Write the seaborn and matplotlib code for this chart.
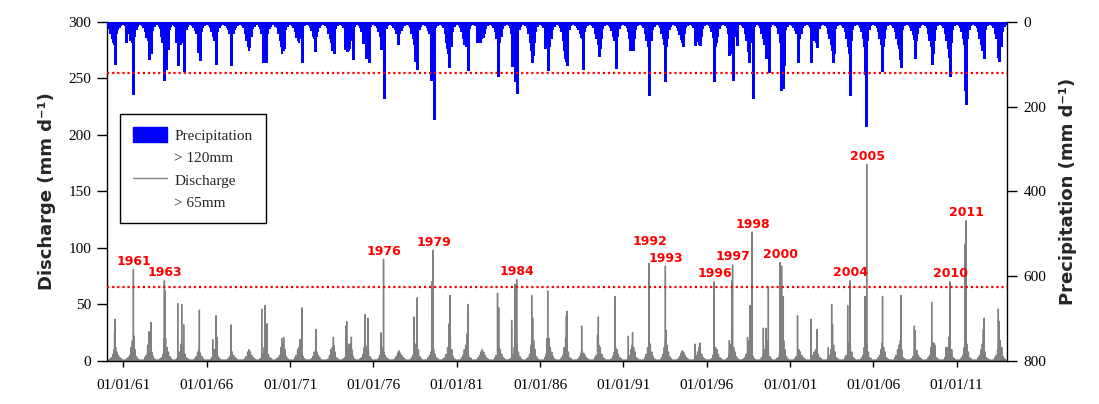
import numpy as np
import pandas as pd
import matplotlib
matplotlib.use("Agg")
import matplotlib.pyplot as plt
import matplotlib.dates as mdates
from matplotlib.patches import Patch
from matplotlib.lines import Line2D
import seaborn as sns

# ---------------- data ----------------
YEARS = list(range(1960, 2014))

# monthly maximum daily precipitation (mm), Jan..Dec, per year
precip_monthly = [
    [12, 18, 28, 40, 50, 55, 45, 30, 20, 14, 10, 8],   # 1960
    [8, 10, 15, 30, 45, 40, 50, 55, 35, 20, 12, 8],
    [8, 10, 14, 25, 38, 45, 50, 60, 40, 22, 12, 8],
    [8, 12, 18, 35, 50, 60, 66, 55, 40, 20, 12, 8],
    [10, 12, 20, 35, 45, 55, 50, 60, 35, 20, 12, 8],
    [8, 10, 14, 22, 30, 35, 45, 35, 25, 15, 10, 8],
    [8, 10, 15, 25, 35, 45, 40, 35, 25, 15, 10, 8],
    [8, 10, 14, 20, 30, 38, 45, 30, 20, 14, 10, 8],
    [8, 10, 15, 28, 45, 60, 70, 55, 35, 18, 12, 8],
    [8, 12, 18, 30, 50, 60, 45, 40, 30, 18, 12, 8],
    [8, 12, 16, 30, 45, 60, 75, 70, 45, 20, 12, 8],   # 1970
    [8, 10, 14, 25, 38, 45, 50, 40, 45, 18, 10, 8],
    [8, 10, 14, 22, 35, 40, 45, 35, 25, 15, 10, 8],
    [8, 10, 14, 28, 40, 50, 70, 60, 40, 18, 10, 8],
    [8, 10, 14, 30, 45, 60, 70, 65, 45, 30, 12, 8],
    [8, 10, 14, 25, 40, 50, 55, 45, 40, 25, 12, 8],
    [8, 10, 14, 25, 35, 45, 50, 40, 30, 18, 10, 8],
    [8, 10, 14, 20, 28, 35, 38, 30, 22, 14, 10, 8],
    [8, 10, 14, 28, 40, 55, 75, 85, 50, 20, 12, 8],
    [8, 10, 14, 22, 30, 40, 38, 35, 25, 15, 10, 8],
    [8, 10, 14, 30, 50, 75, 95, 105, 60, 25, 12, 8],  # 1980
    [8, 10, 14, 25, 40, 55, 60, 50, 35, 18, 10, 8],
    [8, 10, 14, 22, 30, 35, 40, 38, 30, 18, 10, 8],
    [8, 10, 14, 25, 40, 55, 60, 50, 35, 18, 10, 8],
    [8, 10, 14, 30, 45, 60, 70, 55, 40, 20, 12, 8],
    [8, 10, 16, 30, 50, 70, 85, 80, 50, 25, 12, 8],
    [8, 10, 14, 30, 50, 80, 100, 60, 40, 20, 12, 8],
    [8, 10, 14, 25, 45, 70, 95, 90, 45, 20, 10, 8],
    [8, 10, 14, 20, 30, 38, 40, 35, 25, 15, 10, 8],
    [8, 10, 14, 28, 40, 55, 65, 60, 40, 18, 10, 8],
    [8, 10, 14, 22, 35, 45, 55, 50, 35, 18, 10, 8],   # 1990
    [8, 10, 14, 25, 40, 55, 60, 55, 40, 20, 10, 8],
    [8, 10, 14, 28, 45, 60, 75, 70, 45, 20, 12, 8],
    [8, 10, 14, 28, 40, 55, 65, 60, 40, 20, 12, 8],
    [8, 10, 14, 22, 32, 42, 50, 45, 30, 16, 10, 8],
    [8, 10, 14, 25, 38, 48, 55, 50, 35, 18, 10, 8],
    [8, 10, 14, 25, 38, 50, 60, 50, 35, 18, 10, 8],
    [8, 10, 14, 30, 50, 75, 70, 50, 35, 20, 12, 8],
    [8, 10, 14, 30, 45, 65, 80, 75, 50, 22, 12, 8],
    [8, 10, 14, 28, 40, 55, 65, 80, 55, 25, 12, 8],
    [8, 10, 14, 30, 50, 75, 95, 85, 45, 20, 12, 8],   # 2000
    [8, 10, 14, 22, 30, 40, 45, 40, 30, 15, 10, 8],
    [8, 10, 14, 22, 35, 45, 50, 45, 35, 18, 10, 8],
    [8, 10, 14, 28, 40, 55, 70, 65, 40, 18, 10, 8],
    [8, 10, 14, 25, 40, 60, 75, 70, 45, 20, 10, 8],
    [8, 10, 14, 25, 40, 60, 75, 70, 45, 20, 10, 8],
    [8, 10, 14, 25, 40, 55, 75, 60, 40, 20, 10, 8],
    [8, 10, 14, 25, 40, 55, 65, 90, 50, 20, 10, 8],
    [8, 10, 14, 22, 32, 42, 48, 45, 30, 16, 10, 8],
    [8, 10, 14, 28, 45, 60, 80, 75, 45, 20, 10, 8],
    [8, 10, 14, 28, 45, 65, 85, 110, 50, 20, 10, 8],  # 2010
    [8, 10, 14, 25, 40, 55, 65, 60, 40, 20, 10, 8],
    [8, 10, 14, 25, 40, 55, 70, 75, 45, 20, 10, 8],
    [8, 10, 14, 28, 40, 55, 70, 80, 60, 25, 12, 8],   # 2013
]

# monthly background discharge maxima (mm/d), Jan..Dec, per year
discharge_monthly = [
    [1, 1, 2, 3, 6, 10, 12, 8, 5, 3, 2, 1],   # 1960
    [1, 1, 2, 3, 5, 12, 18, 20, 10, 4, 2, 1],
    [1, 1, 1, 3, 5, 14, 20, 18, 8, 4, 2, 1],
    [1, 1, 2, 3, 6, 15, 20, 12, 8, 4, 2, 1],
    [1, 1, 2, 4, 8, 15, 12, 10, 6, 3, 2, 1],
    [1, 1, 1, 2, 4, 8, 10, 7, 4, 2, 1, 1],
    [1, 1, 1, 3, 5, 10, 8, 6, 4, 2, 1, 1],
    [1, 1, 1, 2, 4, 7, 8, 5, 3, 2, 1, 1],
    [1, 1, 1, 2, 4, 8, 10, 8, 5, 3, 2, 1],
    [1, 1, 2, 3, 6, 12, 15, 10, 6, 3, 2, 1],
    [1, 1, 2, 3, 5, 12, 15, 18, 10, 4, 2, 1],  # 1970
    [1, 1, 1, 3, 5, 10, 12, 8, 10, 4, 2, 1],
    [1, 1, 1, 2, 4, 8, 10, 8, 5, 3, 1, 1],
    [1, 1, 1, 2, 5, 10, 12, 14, 8, 3, 2, 1],
    [1, 1, 2, 3, 6, 12, 15, 15, 10, 4, 2, 1],
    [1, 1, 2, 3, 6, 12, 14, 12, 10, 4, 2, 1],
    [1, 1, 1, 2, 5, 10, 12, 8, 5, 3, 2, 1],
    [1, 1, 1, 2, 4, 7, 9, 7, 5, 3, 2, 1],
    [1, 1, 1, 3, 5, 10, 15, 18, 10, 4, 2, 1],
    [1, 1, 1, 3, 5, 8, 10, 10, 6, 3, 2, 1],
    [1, 1, 2, 3, 6, 12, 18, 22, 10, 4, 2, 1],  # 1980
    [1, 1, 1, 3, 5, 10, 14, 12, 6, 3, 2, 1],
    [1, 1, 1, 3, 5, 8, 10, 8, 5, 3, 2, 1],
    [1, 1, 1, 3, 5, 10, 12, 10, 6, 3, 2, 1],
    [1, 1, 2, 3, 6, 12, 18, 15, 8, 4, 2, 1],
    [1, 1, 2, 3, 6, 14, 20, 18, 10, 4, 2, 1],
    [1, 1, 1, 3, 6, 15, 20, 12, 8, 4, 2, 1],
    [1, 1, 1, 3, 5, 12, 20, 20, 8, 3, 2, 1],
    [1, 1, 1, 2, 4, 7, 9, 7, 5, 3, 2, 1],
    [1, 1, 1, 3, 5, 10, 14, 12, 6, 3, 2, 1],
    [1, 1, 1, 2, 4, 8, 12, 10, 6, 3, 2, 1],    # 1990
    [1, 1, 1, 3, 5, 10, 14, 12, 8, 3, 2, 1],
    [1, 1, 1, 3, 6, 12, 16, 15, 8, 4, 2, 1],
    [1, 1, 1, 3, 6, 12, 18, 14, 8, 4, 2, 1],
    [1, 1, 1, 2, 4, 7, 9, 8, 5, 3, 2, 1],
    [1, 1, 1, 2, 5, 8, 12, 10, 6, 3, 2, 1],
    [1, 1, 1, 2, 5, 10, 12, 10, 6, 3, 2, 1],
    [1, 1, 2, 3, 6, 15, 18, 12, 8, 4, 2, 1],
    [1, 1, 2, 3, 6, 14, 18, 20, 10, 4, 2, 1],
    [1, 1, 1, 3, 5, 10, 14, 18, 12, 4, 2, 1],
    [1, 1, 2, 3, 6, 15, 20, 18, 10, 4, 2, 1],  # 2000
    [1, 1, 1, 2, 4, 7, 10, 8, 5, 3, 2, 1],
    [1, 1, 1, 2, 5, 8, 10, 8, 6, 3, 2, 1],
    [1, 1, 1, 3, 5, 10, 16, 14, 8, 3, 2, 1],
    [1, 1, 1, 3, 5, 12, 16, 14, 8, 3, 2, 1],
    [1, 1, 1, 3, 5, 12, 18, 15, 8, 3, 2, 1],
    [1, 1, 1, 3, 5, 10, 16, 12, 8, 3, 2, 1],
    [1, 1, 1, 3, 5, 10, 14, 18, 10, 3, 2, 1],
    [1, 1, 1, 2, 4, 7, 10, 9, 5, 3, 2, 1],
    [1, 1, 1, 3, 5, 12, 16, 16, 8, 3, 2, 1],
    [1, 1, 1, 3, 5, 12, 16, 20, 10, 3, 2, 1],  # 2010
    [1, 1, 1, 3, 5, 12, 18, 15, 8, 3, 2, 1],
    [1, 1, 1, 3, 5, 10, 15, 16, 8, 3, 2, 1],
    [1, 1, 1, 3, 5, 10, 16, 18, 12, 4, 2, 1],  # 2013
]

# individual heavy-rain days (decimal year, mm)
precip_event_t = [1960.50, 1961.18, 1961.60, 1962.54, 1962.66, 1963.34, 1963.46, 1963.58,
                  1963.66, 1964.16, 1964.30, 1964.66, 1965.50, 1965.60, 1966.56, 1967.46,
                  1968.56, 1969.40, 1969.55, 1970.66, 1971.74, 1972.51, 1973.61, 1974.27,
                  1974.41, 1974.75, 1975.37, 1975.57, 1975.71, 1976.47, 1976.61, 1977.50,
                  1978.47, 1978.63, 1979.47, 1979.61, 1980.40, 1980.55, 1981.67, 1982.20,
                  1982.37, 1983.45, 1984.31, 1984.51, 1984.63, 1985.51, 1985.58, 1986.30,
                  1986.47, 1987.50, 1987.61, 1988.55, 1989.51, 1989.60, 1990.53, 1991.40,
                  1991.55, 1992.54, 1993.47, 1993.52, 1994.55, 1995.33, 1995.60, 1996.46,
                  1997.36, 1997.55, 1997.80, 1998.45, 1998.54, 1998.76, 1999.55, 1999.72,
                  2000.46, 2000.56, 2000.62, 2001.46, 2002.28, 2002.60, 2003.58, 2003.64,
                  2004.62, 2005.48, 2005.58, 2006.54, 2007.64, 2008.52, 2009.52, 2010.60,
                  2011.50, 2011.58, 2012.62, 2013.46, 2013.56]
precip_event_v = [100, 49, 170, 88, 74, 49, 137, 112,
                  65, 47, 103, 117, 72, 90, 100, 103,
                  59, 96, 96, 61, 96, 69, 74, 65,
                  68, 87, 51, 85, 94, 65, 179, 53,
                  92, 111, 137, 230, 63, 106, 114, 47,
                  49, 127, 105, 139, 167, 95, 74, 63,
                  114, 86, 103, 111, 80, 63, 108, 67,
                  66, 172, 63, 141, 57, 55, 55, 139,
                  78, 137, 55, 70, 96, 179, 85, 118,
                  160, 157, 102, 96, 96, 59, 96, 74,
                  172, 123, 247, 117, 106, 85, 99, 127,
                  162, 194, 85, 84, 92]

# individual discharge spikes (decimal year, mm/d)
q_event_t = [1960.47, 1960.50, 1961.65, 1962.54, 1962.66, 1963.42, 1963.50, 1964.26,
             1964.50, 1964.62, 1965.56, 1966.36, 1966.56, 1966.62, 1967.46, 1969.30,
             1969.50, 1969.62, 1970.50, 1970.62, 1971.60, 1971.72, 1972.57, 1973.60,
             1974.34, 1974.40, 1974.68, 1975.50, 1975.68, 1976.45, 1978.45, 1978.63,
             1979.50, 1980.55, 1980.60, 1981.62, 1981.67, 1983.45, 1983.52, 1984.30,
             1984.50, 1985.50, 1985.56, 1986.40, 1986.46, 1987.58, 1987.61, 1988.50,
             1989.45, 1989.50, 1990.50, 1991.30, 1991.55, 1993.56, 1995.30, 1995.60,
             1997.36, 1997.50, 1998.45, 1998.60, 1999.40, 1999.55, 1999.70, 2000.50,
             2000.60, 2001.45, 2002.25, 2002.63, 2003.30, 2003.50, 2003.55, 2004.46,
             2005.50, 2006.55, 2007.65, 2008.46, 2008.52, 2009.50, 2009.70, 2010.35,
             2010.52, 2011.50, 2012.60, 2012.65, 2013.50, 2013.55]
q_event_v = [25, 37, 22, 26, 34, 20, 62, 51,
             50, 32, 45, 19, 40, 21, 32, 46,
             49, 33, 20, 21, 19, 47, 28, 21,
             31, 35, 21, 41, 38, 25, 39, 56,
             70, 33, 58, 24, 50, 60, 47, 36,
             68, 58, 38, 20, 62, 40, 44, 31,
             23, 39, 57, 22, 25, 27, 15, 16,
             18, 71, 21, 49, 29, 29, 65, 84,
             57, 40, 37, 28, 12, 50, 32, 49,
             57, 57, 58, 31, 27, 52, 14, 12,
             21, 103, 28, 38, 46, 35]

# labelled flood peaks
peak_labels = ["1961", "1963", "1976", "1979", "1984", "1992", "1993", "1996",
               "1997", "1998", "2000", "2004", "2005", "2010", "2011"]
peak_t = [1961.60, 1963.46, 1976.61, 1979.57, 1984.60, 1992.54, 1993.52, 1996.44,
          1997.55, 1998.73, 2000.40, 2004.60, 2005.60, 2010.60, 2011.57]
peak_v = [81, 71, 90, 98, 72, 86.5, 84, 70,
          85, 114, 87, 71, 174, 70, 124]
peak_label_dy = [1, 1, 1, 1, 1, 11, 1, 1, 1, 1, 1, 1, 1, 1, 1]   # text offset (pt)

x_tick_years = [1961, 1966, 1971, 1976, 1981, 1986, 1991, 1996, 2001, 2006, 2011]
q_ticks = [0, 50, 100, 150, 200, 250, 300]
p_ticks = [0, 200, 400, 600, 800]
Q_THRESHOLD = 65
P_THRESHOLD = 120
legend_labels = ["Precipitation", "> 120mm", "Discharge", "> 65mm"]


# ---------------- build daily tables ----------------
def to_date(t):
    y = int(np.floor(t))
    return pd.Timestamp(y, 1, 1) + pd.Timedelta(days=int(round((t - y) * 365)))


days = pd.date_range("1960-01-01", "2013-12-31", freq="D")
q = pd.Series(0.0, index=days)
p_bg = pd.Series(0.0, index=days)
p_ev = pd.Series(0.0, index=days)
for yi, yr in enumerate(YEARS):
    for m in range(12):
        d = pd.Timestamp(yr, m + 1, 15)
        q[d] = max(q[d], discharge_monthly[yi][m])
        p_bg[d] = precip_monthly[yi][m]
for t, v in zip(q_event_t + peak_t, q_event_v + peak_v):
    d = to_date(t)
    q[d] = max(q[d], v)
for t, v in zip(precip_event_t, precip_event_v):
    d = to_date(t)
    p_ev[d] = max(p_ev[d], v)

df_q = pd.DataFrame({"date": days, "discharge": q.values})
p_bg = p_bg[p_bg > 0]
p_ev = p_ev[p_ev > 0]

# ---------------- style ----------------
sns.set_style("ticks", {"axes.edgecolor": "black", "xtick.color": "black",
                        "ytick.color": "black", "axes.linewidth": 1.0})
plt.rcParams["font.family"] = ["Liberation Serif", "DejaVu Serif"]
plt.rcParams["axes.linewidth"] = 1.0

fig = plt.figure(figsize=(10.99, 4.04), dpi=100)
ax = fig.add_axes([0.0971, 0.1064, 0.8189, 0.8399])

sns.lineplot(data=df_q, x="date", y="discharge", ax=ax, color="#808080",
             linewidth=1.0, estimator=None)
ax.axhline(Q_THRESHOLD, color="red", lw=1.6, ls=(0, (1, 1.3)), zorder=5)

ax2 = ax.twinx()
ax2.vlines(mdates.date2num(p_bg.index.to_pydatetime()), 0, p_bg.values,
           color="#0000ff", lw=1.3, antialiased=False)
ax2.vlines(mdates.date2num(p_ev.index.to_pydatetime()), 0, p_ev.values,
           color="#0000ff", lw=0.9, antialiased=False)
ax2.axhline(P_THRESHOLD, color="red", lw=1.6, ls=(0, (1, 1.3)), zorder=5)

# axes ranges / ticks
x0, x1 = pd.Timestamp("1960-01-01"), pd.Timestamp("2014-01-01")
ax.set_xlim(x0, x1)
ax.set_ylim(0, 300)
ax2.set_ylim(800, 0)
ax.set_xticks([pd.Timestamp(y, 1, 1) for y in x_tick_years])
ax.xaxis.set_major_formatter(mdates.DateFormatter("%d/%m/%y"))
ax.set_yticks(q_ticks)
ax2.set_yticks(p_ticks)

for a in (ax, ax2):
    a.spines["top"].set_visible(False)
ax.spines["right"].set_visible(False)
ax2.spines["right"].set_visible(True)
ax2.spines["left"].set_visible(False)
ax2.spines["bottom"].set_visible(False)

ax.tick_params(axis="y", length=7, width=1, direction="out", pad=4, labelsize=11)
ax.tick_params(axis="x", length=4, width=1, direction="out", pad=9, labelsize=11)
ax2.tick_params(axis="y", length=7, width=1, direction="out", pad=5, labelsize=11)

ax.set_xlabel("")
ax.set_ylabel("Discharge (mm d\u207b\u00b9)", fontsize=13, fontweight="bold",
              family="DejaVu Sans")
ax.yaxis.set_label_coords(-0.0563, 0.5)
ax2.set_ylabel("Precipitation (mm d\u207b\u00b9)", fontsize=13, fontweight="bold",
               family="DejaVu Sans")
ax2.yaxis.set_label_coords(1.0581, 0.5)

# peak annotations
for lbl, t, v, dy in zip(peak_labels, peak_t, peak_v, peak_label_dy):
    ax.annotate(lbl, xy=(to_date(t), v), xytext=(0.5, dy), textcoords="offset points",
                ha="center", va="bottom", color="red", fontsize=9, fontweight="bold",
                family="DejaVu Sans", zorder=6)

# legend
handles = [Patch(facecolor="#0000ff", edgecolor="#0000ff"),
           Line2D([], [], linestyle="none"),
           Line2D([], [], color="#808080", lw=1.0),
           Line2D([], [], linestyle="none")]
leg = ax2.legend(handles, legend_labels, loc="upper left",
                 bbox_to_anchor=(0.0148, 0.727), borderaxespad=0, frameon=True,
                 fancybox=False, edgecolor="black", framealpha=1, fontsize=11,
                 handlelength=2.2, handleheight=1.1, handletextpad=0.5,
                 labelspacing=0.45, borderpad=0.85)
leg.get_frame().set_linewidth(1.0)

fig.savefig("out.png", dpi=100)
